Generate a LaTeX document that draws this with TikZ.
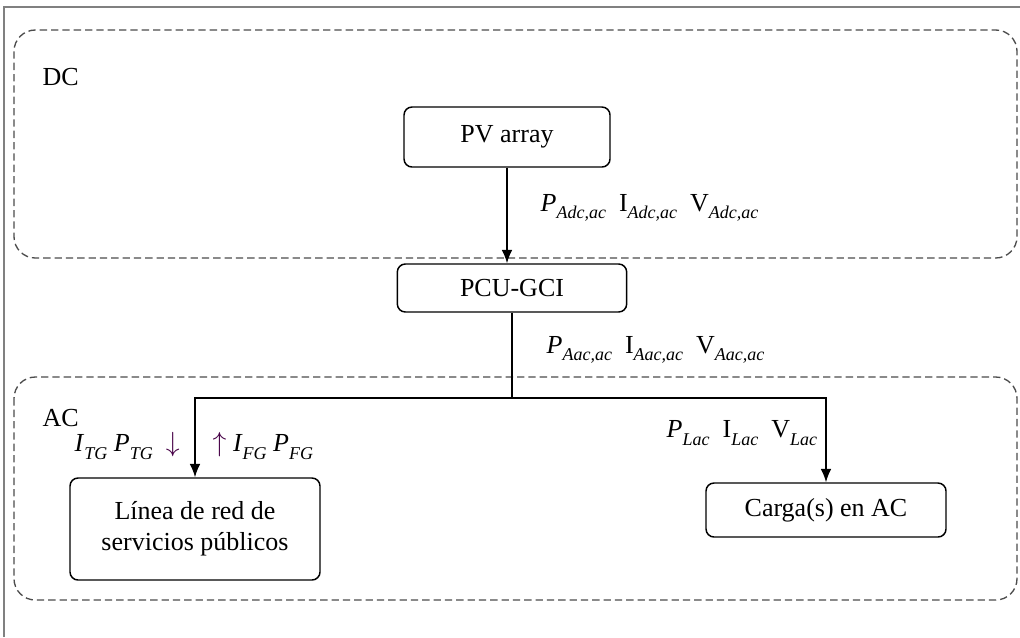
\documentclass[tikz,border=0pt]{standalone}
\usepackage{fontspec}
\setmainfont{Liberation Serif}
\usepackage{tikz}
\usetikzlibrary{arrows.meta}

\newcommand{\vr}[2]{#1\raisebox{-0.6ex}{\fontsize{13.5}{14}\selectfont\itshape #2}}

\begin{document}
\begin{tikzpicture}[x=0.75pt,y=-0.75pt,>={Latex[length=10pt,width=8pt]},
		font=\fontsize{19.5}{23}\selectfont,
		caja/.style={draw, line width=1.1pt, rounded corners=6pt, align=center},
		zona/.style={draw=black!70, dash pattern=on 5.5pt off 3pt, line width=1pt, rounded corners=16pt}]
	\useasboundingbox (0,0) rectangle (1020,637);
	% marco
	\draw[black!50, line width=1pt] (4,637) -- (4,7) -- (1020,7);
	% zonas DC y AC
	\draw[zona] (14,30) rectangle (1017,258);
	\draw[zona] (14,377) rectangle (1017,600);
	\node[anchor=west] (dc) at (38,77) {DC};
	\node[anchor=west] (ac) at (38,418) {AC};
	% bloques
	\node[caja, minimum width=154.5pt, minimum height=45pt] (pv) at (507,137) {PV array};
	\node[caja, minimum width=172pt, minimum height=36pt] (pcu) at (512,288) {PCU-GCI};
	\node[caja, minimum width=187.5pt, minimum height=76.5pt] (red) at (195,529) {Línea de red de\\servicios públicos};
	\node[caja, minimum width=180pt, minimum height=40.5pt] (carga) at (826,510) {Carga(s) en AC};
	\coordinate (j) at (512,398);
	% conexiones
	\draw[->, line width=1.1pt] (pv.south) -- (pv.south |- pcu.north);
	\draw[line width=1.1pt] (pcu.south) -- (j);
	\draw[->, line width=1.1pt] (j) -| (red.north);
	\draw[->, line width=1.1pt] (j) -| (carga.north);
	% etiquetas
	\node[anchor=west] (ladc) at (536,208) {\vr{\textit{P}}{Adc,ac}\ \ \vr{I}{Adc,ac}\ \ \vr{V}{Adc,ac}};
	\node[anchor=west] (laac) at (542,350) {\vr{\textit{P}}{Aac,ac}\ \ \vr{I}{Aac,ac}\ \ \vr{V}{Aac,ac}};
	\node[anchor=west] (llac) at (662,433) {\vr{\textit{P}}{Lac}\ \ \vr{I}{Lac}\ \ \vr{V}{Lac}};
	\node[anchor=west] (ltg) at (70,446) {\vr{\textit{I}}{TG} \vr{\textit{P}}{TG}\ \ \textcolor{violet!55!black}{$\downarrow$}};
	\node[anchor=west] (lfg) at (208,446) {\textcolor{violet!55!black}{$\uparrow$} \vr{\textit{I}}{FG} \vr{\textit{P}}{FG}};
\end{tikzpicture}
\end{document}
